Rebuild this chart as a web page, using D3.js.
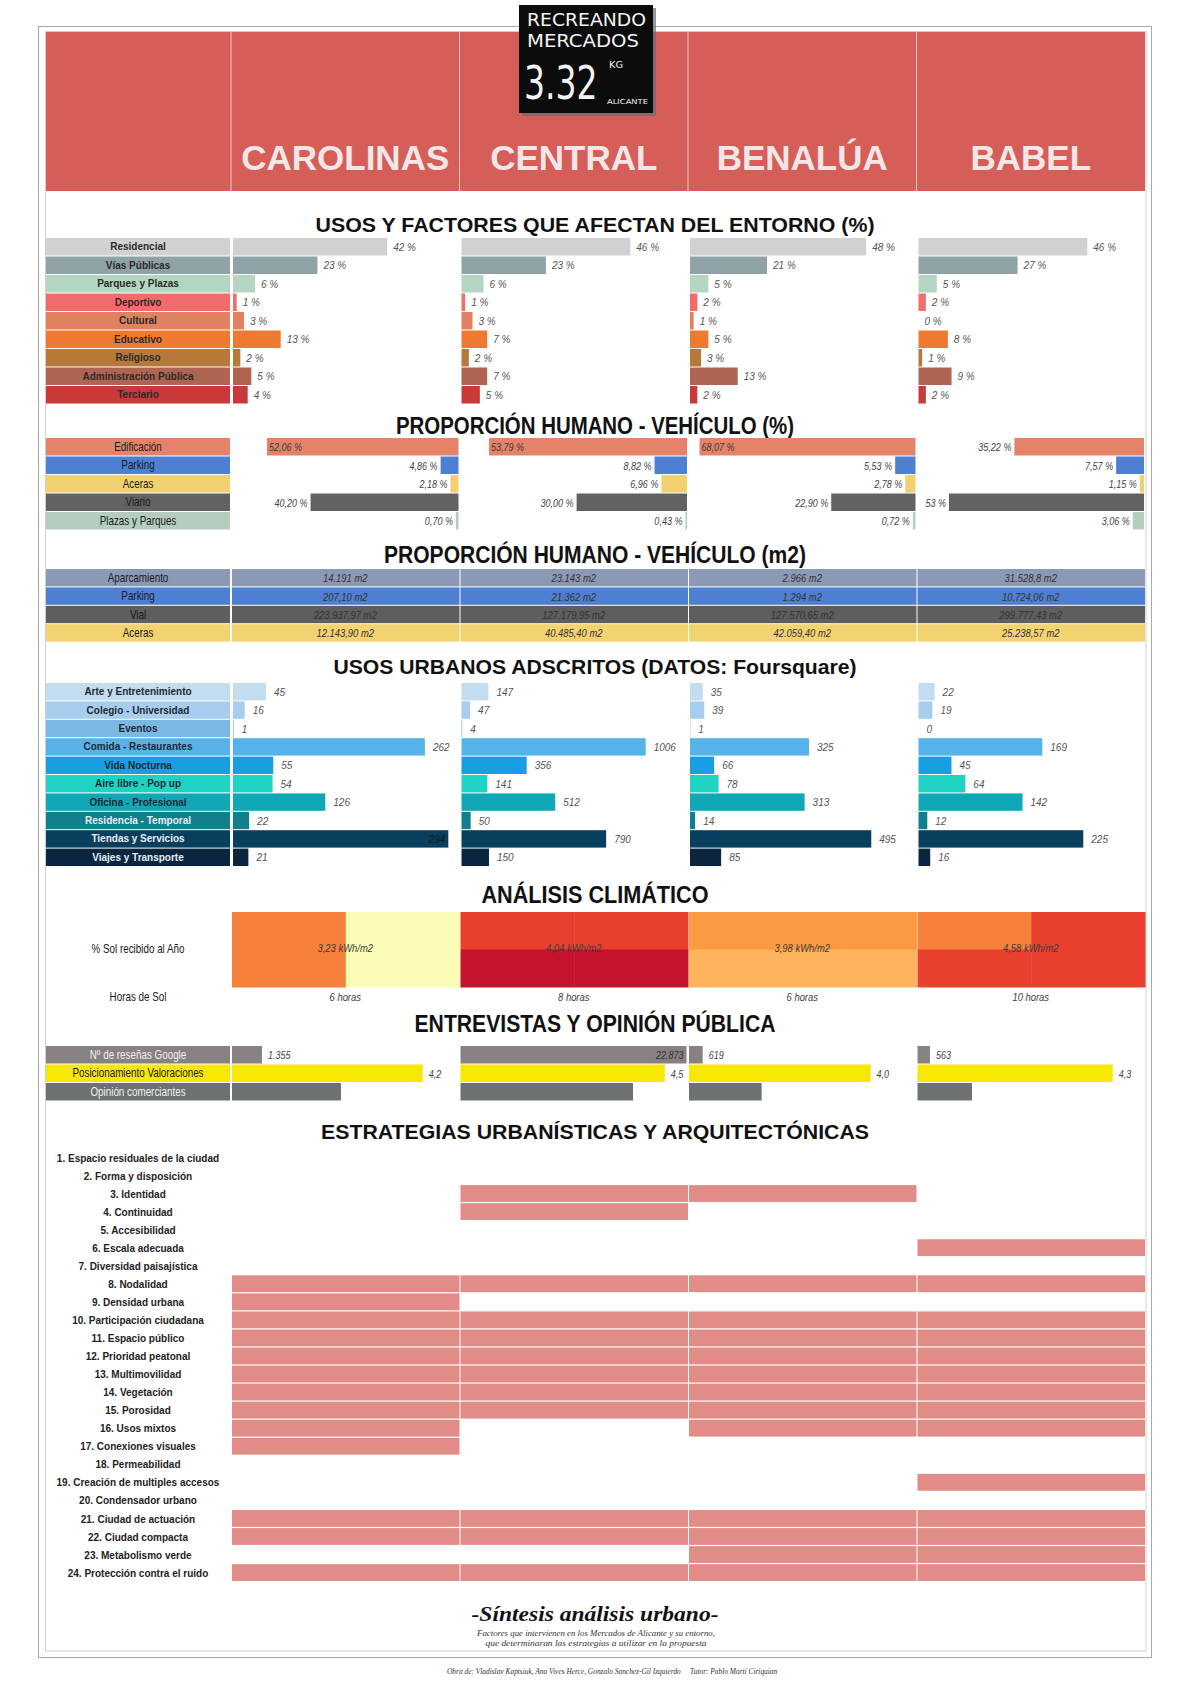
<!DOCTYPE html>
<html><head><meta charset="utf-8">
<script src="https://cdn.jsdelivr.net/npm/d3@7"></script>
<style>
body{margin:0;background:#fff;}
svg{display:block;}
</style></head><body>
<svg id="c" width="1190" height="1685"></svg>
<script>
// ---------------- DATA ----------------
const markets = ["CAROLINAS","CENTRAL","BENALÚA","BABEL"];

const usosCategories = ["Residencial","Vías Públicas","Parques y Plazas","Deportivo","Cultural","Educativo","Religioso","Administración Pública","Terciario"];
const usosColors = ["#d1d1d1","#8fa3a6","#b4d5c1","#f36b6b","#e08262","#ee7a30","#b6793a","#ad6552","#c9393a"];
const usosCarolinas = [42,23,6,1,3,13,2,5,4];
const usosCentral   = [46,23,6,1,3,7,2,7,5];
const usosBenalua   = [48,21,5,2,1,5,3,13,2];
const usosBabel     = [46,27,5,2,0,8,1,9,2];

const hvCategories = ["Edificación","Parking","Aceras","Viario","Plazas y Parques"];
const hvColors = ["#e4836a","#4d7fd3","#f1d06f","#626262","#b4cdbf"];
const hvCarolinas = [52.06,4.86,2.18,40.20,0.70];
const hvCentral   = [53.79,8.82,6.96,30.00,0.43];
const hvBenalua   = [68.07,5.53,2.78,22.90,0.72];
const hvBabel     = [35.22,7.57,1.15,53,3.06];

const m2Categories = ["Aparcamiento","Parking","Vial","Aceras"];
const m2Colors = ["#8c99b5","#4e7fd2","#5e5e5e","#f3d270"];
const m2Carolinas = ["14.191 m2","207,10 m2","223.937,97 m2","12.143,90 m2"];
const m2Central   = ["23.143 m2","21.362 m2","127.179,95 m2","40.485,40 m2"];
const m2Benalua   = ["2.966 m2","1.294 m2","127.570,65 m2","42.059,40 m2"];
const m2Babel     = ["31.528,8 m2","10.724,06 m2","299.777,43 m2","25.238,57 m2"];

const fsCategories = ["Arte y Entretenimiento","Colegio - Universidad","Eventos","Comida - Restaurantes","Vida Nocturna","Aire libre - Pop up","Oficina - Profesional","Residencia - Temporal","Tiendas y Servicios","Viajes y Transporte"];
const fsColors = ["#c3dcef","#a8cdee","#7ab9e1","#56b3ea","#179ee3","#1ed3c3","#10a7b7","#137e8d","#083e5e","#0a2540"];
const fsCarolinas = [45,16,1,262,55,54,126,22,294,21];
const fsCentral   = [147,47,4,1006,356,141,512,50,790,150];
const fsBenalua   = [35,39,1,325,66,78,313,14,495,85];
const fsBabel     = [22,19,0,169,45,64,142,12,225,16];
const fsScaleMax  = [312,1248,624,312];

const sunLevelColors = ["#fbfcb6","#fdb35b","#fa9b42","#f5813a","#e9402e","#c4122f"];
// quadrant levels per market: [top-left, top-right, bottom-left, bottom-right]
const sunQuadrants = [[3,0,3,0],[4,4,5,5],[2,2,1,1],[3,4,4,4]];
const sunKwh   = [3.23,4.04,3.98,4.58];
const sunHours = [6,8,6,10];

const opinionCategories = ["Nº de reseñas Google","Posicionamiento Valoraciones","Opinión comerciantes"];
const opinionColors = ["#878181","#f6e800","#6d7270"];
const googleReviews = [1355,22873,619,563];
const ratings = [4.2,4.5,4.0,4.3];
const merchantOpinion = [2.4,3.8,1.6,1.2];

const strategies = ["1. Espacio residuales de la ciudad","2. Forma y disposición","3. Identidad","4. Continuidad","5. Accesibilidad","6. Escala adecuada","7. Diversidad paisajística","8. Nodalidad","9. Densidad urbana","10. Participación ciudadana","11. Espacio público","12. Prioridad peatonal","13. Multimovilidad","14. Vegetación","15. Porosidad","16. Usos mixtos","17. Conexiones visuales","18. Permeabilidad","19. Creación de multiples accesos","20. Condensador urbano","21. Ciudad de actuación","22. Ciudad compacta","23. Metabolismo verde","24. Protección contra el ruido"];
// applies per strategy: [Carolinas, Central, Benalúa, Babel]
const strategyMatrix = [
 [0,0,0,0],[0,0,0,0],[0,1,1,0],[0,1,0,0],[0,0,0,0],[0,0,0,1],[0,0,0,0],[1,1,1,1],
 [1,0,0,0],[1,1,1,1],[1,1,1,1],[1,1,1,1],[1,1,1,1],[1,1,1,1],[1,1,1,1],[1,0,1,1],
 [1,0,0,0],[0,0,0,0],[0,0,0,1],[0,0,0,0],[1,1,1,1],[1,1,1,1],[0,0,1,1],[1,1,1,1]
];

// ---------------- SETUP ----------------
const svg = d3.select("#c");
const SANS = "'Liberation Sans', Arial, Helvetica, sans-serif";
const SERIF = "'Liberation Serif','DejaVu Serif',serif";
const es = d3.formatLocale({decimal:",", thousands:".", grouping:[3], currency:["","€"]});
const fInt = es.format(",d"), f1 = es.format(",.1f"), f2 = es.format(",.2f");

const LX0 = 46, LX1 = 230, LCX = (LX0+LX1)/2;
const col = d3.scaleBand().domain(d3.range(4)).range([231,1145]);
const bw = col.bandwidth();

function ctext(g, x, y, str, o={}) {
  return g.append("text")
    .attr("transform", `translate(${x},${y}) scale(${o.sx||0.82},1)`)
    .attr("text-anchor", o.anchor||"middle")
    .attr("font-family", SANS)
    .attr("font-size", o.size||11)
    .attr("font-weight", o.weight||"normal")
    .attr("font-style", o.italic?"italic":"normal")
    .attr("fill", o.fill||"#333")
    .text(str);
}

// frames
svg.append("rect").attr("x",38.5).attr("y",26.5).attr("width",1113).attr("height",1631)
  .attr("fill","none").attr("stroke","#a9a9a9");
svg.append("rect").attr("x",45.5).attr("y",31.5).attr("width",1100.5).attr("height",1619.5)
  .attr("fill","none").attr("stroke","#cfcfcf");

// header
svg.append("rect").attr("x",46).attr("y",32).attr("width",1099).attr("height",159).attr("fill","#d55e59");
svg.selectAll(".hsep").data(d3.range(4)).join("line")
  .attr("x1",d=>col(d)).attr("x2",d=>col(d)).attr("y1",32).attr("y2",191)
  .attr("stroke","#f2c7c4").attr("stroke-width",1);
svg.selectAll(".hname").data(markets).join("text")
  .attr("x",(d,i)=>col(i)+bw/2).attr("y",170).attr("text-anchor","middle")
  .attr("font-family",SANS).attr("font-weight","bold").attr("font-size",35)
  .attr("fill","#f3e6e6").text(d=>d);

// logo
const logo = svg.append("g");
const LOGOFONT = "'DejaVu Sans Condensed','Liberation Sans',sans-serif";
logo.append("rect").attr("x",522).attr("y",8).attr("width",134).attr("height",108).attr("fill","#6b6b6b").attr("opacity",0.7);
logo.append("rect").attr("x",519).attr("y",5).attr("width",134).attr("height",108).attr("fill","#0c0c0c");
function ltext(str,x,y,size,len){
  logo.append("text").attr("x",x).attr("y",y).attr("font-family",LOGOFONT)
   .attr("font-size",size).attr("fill","#f4f4f4").attr("textLength",len).attr("lengthAdjust","spacingAndGlyphs").text(str);
}
ltext("RECREANDO",527,26,17,119);
ltext("MERCADOS",527,47,17,112);
logo.append("text").attr("transform","translate(524,99) scale(0.8,1)").attr("font-family",LOGOFONT)
  .attr("font-size",46).attr("fill","#f4f4f4").text("3.32");
ltext("KG",609,68,9,14);
ltext("ALICANTE",607,104,7,41);

// titles
const titles = [
 {t:"USOS Y FACTORES QUE AFECTAN DEL ENTORNO (%)", y:232, w:559, s:21},
 {t:"PROPORCIÓN HUMANO - VEHÍCULO (%)", y:434, w:398, s:23},
 {t:"PROPORCIÓN HUMANO - VEHÍCULO (m2)", y:563, w:422, s:23},
 {t:"USOS URBANOS ADSCRITOS (DATOS: Foursquare)", y:674, w:523, s:21},
 {t:"ANÁLISIS CLIMÁTICO", y:903, w:227, s:23},
 {t:"ENTREVISTAS Y OPINIÓN PÚBLICA", y:1032, w:361, s:23},
 {t:"ESTRATEGIAS URBANÍSTICAS Y ARQUITECTÓNICAS", y:1139, w:548, s:21}
];
svg.selectAll(".title").data(titles).join("text")
  .attr("x",595).attr("y",d=>d.y).attr("text-anchor","middle")
  .attr("font-family",SANS).attr("font-weight","bold").attr("font-size",d=>d.s)
  .attr("textLength",d=>d.w).attr("lengthAdjust","spacingAndGlyphs").attr("fill","#111").text(d=>d.t);

// ---------- generic label column ----------
function labelColumn(g, cats, colors, y, h, textColor, opts) {
  g.selectAll(null).data(cats).join("rect")
    .attr("x",LX0).attr("y",(d,i)=>y(i)).attr("width",LX1-LX0).attr("height",h).attr("fill",(d,i)=>colors[i]);
  cats.forEach((c,i)=>{
    if (opts.cond) ctext(g, LCX, y(i)+h/2+4, c, {size:opts.size||12, fill:textColor(i)});
    else g.append("text").attr("x",LCX).attr("y",y(i)+h/2+3.5).attr("text-anchor","middle")
      .attr("font-family",SANS).attr("font-weight","bold").attr("font-size",10).attr("fill",textColor(i)).text(c);
  });
}

// ---------- Section 1 ----------
{
  const g = svg.append("g");
  const pitch = 18.5, top = 238, n = usosCategories.length;
  const y = d3.scaleLinear().domain([0,n]).range([top, top+n*pitch]);
  const x = d3.scaleLinear().domain([0,100]).range([0,367]);
  labelColumn(g, usosCategories, usosColors, y, pitch-1, ()=>"#2a2a2a", {});
  [usosCarolinas,usosCentral,usosBenalua,usosBabel].forEach((vals,c)=>{
    const x0 = col(c)+2;
    g.selectAll(null).data(vals).join("rect")
      .attr("x",x0).attr("y",(d,i)=>y(i)).attr("width",d=>x(d)).attr("height",pitch-1).attr("fill",(d,i)=>usosColors[i]);
    g.selectAll(null).data(vals).join("text")
      .attr("x",d=>x0+x(d)+6).attr("y",(d,i)=>y(i)+pitch/2+3.5)
      .attr("font-family",SANS).attr("font-style","italic").attr("font-size",10).attr("fill","#555")
      .text(d=>d+" %");
  });
}

// ---------- Section 2 ----------
{
  const g = svg.append("g");
  const pitch = 18.5, top = 438, n = hvCategories.length;
  const y = d3.scaleLinear().domain([0,n]).range([top, top+n*pitch]);
  const x = d3.scaleLinear().domain([0,58.7]).range([0,216]).clamp(true);
  labelColumn(g, hvCategories, hvColors, y, pitch-1, ()=>"#1a1a1a", {cond:true, size:12});
  [hvCarolinas,hvCentral,hvBenalua,hvBabel].forEach((vals,c)=>{
    const xEnd = col(c)+bw-1;
    vals.forEach((v,i)=>{
      g.append("rect").attr("x",xEnd-x(v)).attr("y",y(i)).attr("width",x(v)).attr("height",pitch-1).attr("fill",hvColors[i]);
      const lbl = (Number.isInteger(v) && v>50) ? v+" %" : f2(v)+" %";
      if (i===0 && v>50) ctext(g, xEnd-x(v)+2, y(i)+pitch/2+4, lbl, {size:11, anchor:"start", italic:true, fill:"#3a3a3a"});
      else ctext(g, xEnd-x(v)-3, y(i)+pitch/2+4, lbl, {size:11, anchor:"end", italic:true, fill:"#444"});
    });
  });
}

// ---------- Section 3 ----------
{
  const g = svg.append("g");
  const pitch = 18.4, top = 569, n = m2Categories.length;
  const y = d3.scaleLinear().domain([0,n]).range([top, top+n*pitch]);
  labelColumn(g, m2Categories, m2Colors, y, pitch-1, ()=>"#1a1a1a", {cond:true, size:12});
  [m2Carolinas,m2Central,m2Benalua,m2Babel].forEach((vals,c)=>{
    g.selectAll(null).data(vals).join("rect")
      .attr("x",col(c)+1).attr("y",(d,i)=>y(i)).attr("width",bw-1).attr("height",pitch-1).attr("fill",(d,i)=>m2Colors[i]);
    vals.forEach((v,i)=> ctext(g, col(c)+bw/2, y(i)+pitch/2+4, v, {size:11.5, italic:true, fill:"#333"}));
  });
}

// ---------- Section 4 ----------
{
  const g = svg.append("g");
  const pitch = 18.4, top = 683, n = fsCategories.length;
  const y = d3.scaleLinear().domain([0,n]).range([top, top+n*pitch]);
  labelColumn(g, fsCategories, fsColors, y, pitch-1, i=> i>=7 ? "#e8eef3" : "#1e2a35", {});
  [fsCarolinas,fsCentral,fsBenalua,fsBabel].forEach((vals,c)=>{
    const x = d3.scaleLinear().domain([0,fsScaleMax[c]]).range([0,bw]);
    const x0 = col(c)+2, colEnd = col(c)+bw;
    vals.forEach((v,i)=>{
      g.append("rect").attr("x",x0).attr("y",y(i)).attr("width",x(v)).attr("height",pitch-1).attr("fill",fsColors[i]);
      const tw = String(v).length*5.6;
      const inside = x0+x(v)+8+tw > colEnd-2;
      g.append("text").attr("x", inside ? x0+x(v)-3 : x0+x(v)+8).attr("y",y(i)+pitch/2+3.5)
        .attr("text-anchor", inside ? "end":"start")
        .attr("font-family",SANS).attr("font-style","italic").attr("font-size",10)
        .attr("fill", inside ? "#1a1a1a" : "#555").text(v);
    });
  });
}

// ---------- Section 5: climate ----------
{
  const g = svg.append("g");
  const yq = d3.scaleBand().domain([0,1]).range([912,987]);
  sunQuadrants.forEach((q,c)=>{
    const xq = d3.scaleBand().domain([0,1]).range([col(c)+1, col(c)+bw]);
    q.forEach((lvl,k)=>{
      g.append("rect").attr("x",xq(k%2)).attr("y",yq(Math.floor(k/2)))
        .attr("width",xq.bandwidth()+0.5).attr("height",yq.bandwidth()+0.5).attr("fill",sunLevelColors[lvl]);
    });
    ctext(g, col(c)+bw/2, 952, f2(sunKwh[c])+" kWh/m2", {size:11.5, italic:true, fill:"#3d3d3d"});
    ctext(g, col(c)+bw/2, 1001, sunHours[c]+" horas", {size:11.5, italic:true, fill:"#3d3d3d"});
  });
  ctext(g, LCX, 953, "% Sol recibido al Año", {size:12, fill:"#1a1a1a"});
  ctext(g, LCX, 1001, "Horas de Sol", {size:12, fill:"#1a1a1a"});
}

// ---------- Section 6: opinion ----------
{
  const g = svg.append("g");
  const pitch = 18.5, top = 1046, n = opinionCategories.length;
  const y = d3.scaleLinear().domain([0,n]).range([top, top+n*pitch]);
  labelColumn(g, opinionCategories, opinionColors, y, pitch-1, i=> i===1 ? "#1a1a1a" : "#f1f1f1", {cond:true, size:12});
  const xr = d3.scaleLinear().domain([0,10230]).range([0,226]).clamp(true);
  const xs = d3.scaleLinear().domain([0,5]).range([0,227]);
  for (let c=0;c<4;c++){
    const x0 = col(c)+1, colEnd = col(c)+bw;
    const wr = xr(googleReviews[c]);
    g.append("rect").attr("x",x0).attr("y",y(0)).attr("width",wr).attr("height",pitch-1).attr("fill",opinionColors[0]);
    if (x0+wr+40 > colEnd) ctext(g, x0+wr-3, y(0)+pitch/2+4, fInt(googleReviews[c]), {size:11, anchor:"end", italic:true, fill:"#333"});
    else ctext(g, x0+wr+6, y(0)+pitch/2+4, fInt(googleReviews[c]), {size:11, anchor:"start", italic:true, fill:"#444"});
    const ws = xs(ratings[c]);
    g.append("rect").attr("x",x0).attr("y",y(1)).attr("width",ws).attr("height",pitch-1).attr("fill",opinionColors[1]);
    ctext(g, x0+ws+6, y(1)+pitch/2+4, f1(ratings[c]), {size:11, anchor:"start", italic:true, fill:"#444"});
    g.append("rect").attr("x",x0).attr("y",y(2)).attr("width",xs(merchantOpinion[c])).attr("height",pitch-1).attr("fill",opinionColors[2]);
  }
}

// ---------- Section 7: strategies ----------
{
  const g = svg.append("g");
  const pitch = 18.05, top = 1149, n = strategies.length;
  const y = d3.scaleLinear().domain([0,n]).range([top, top+n*pitch]);
  g.selectAll(null).data(strategies).join("text")
    .attr("x",LCX).attr("y",(d,i)=>y(i)+pitch/2+3.5).attr("text-anchor","middle")
    .attr("font-family",SANS).attr("font-weight","bold").attr("font-size",10).attr("fill","#222").text(d=>d);
  strategyMatrix.forEach((row,i)=>{
    row.forEach((v,c)=>{
      if (v) g.append("rect").attr("x",col(c)+1).attr("y",y(i)).attr("width",bw-1).attr("height",pitch-1.2).attr("fill","#e18c87");
    });
  });
}

// ---------- Footer ----------
svg.append("text").attr("x",595).attr("y",1621).attr("text-anchor","middle")
  .attr("font-family",SERIF).attr("font-style","italic").attr("font-weight","bold").attr("font-size",21)
  .attr("textLength",247).attr("lengthAdjust","spacingAndGlyphs").attr("fill","#111").text("-Síntesis análisis urbano-");
svg.append("text").attr("x",596).attr("y",1636).attr("text-anchor","middle")
  .attr("font-family",SERIF).attr("font-style","italic").attr("font-size",8.5)
  .attr("textLength",238).attr("lengthAdjust","spacingAndGlyphs").attr("fill","#333").text("Factores que intervienen en los Mercados de Alicante y su entorno,");
svg.append("text").attr("x",596).attr("y",1646).attr("text-anchor","middle")
  .attr("font-family",SERIF).attr("font-style","italic").attr("font-size",8.5)
  .attr("textLength",221).attr("lengthAdjust","spacingAndGlyphs").attr("fill","#333").text("que determinaran las estrategias a utilizar en la propuesta");
const credit = svg.append("text").attr("y",1674)
  .attr("font-family",SERIF).attr("font-style","italic").attr("font-size",7.4).attr("fill","#333");
credit.append("tspan").attr("x",447).text("Obra de: Vladislav Kaptsiuk, Ana Vives Herce, Gonzalo Sanchez-Gil Izquierdo");
credit.append("tspan").attr("x",690).text("Tutor: Pablo Martí Ciriquian");
</script></body></html>
